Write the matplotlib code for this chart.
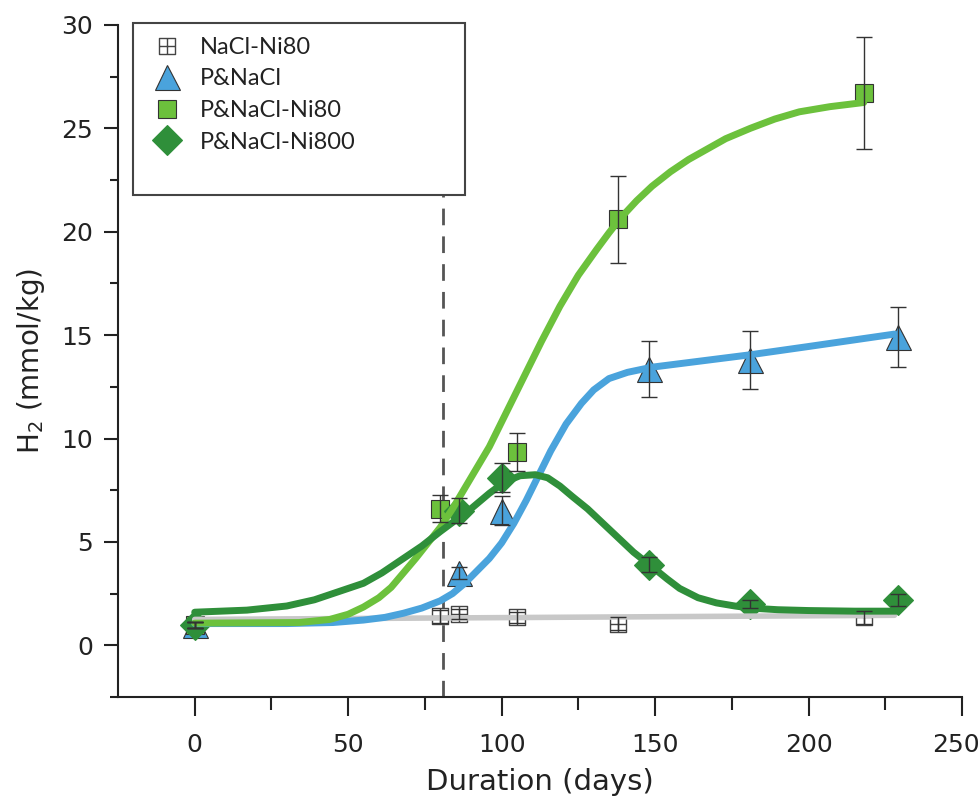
import matplotlib.pyplot as plt
from matplotlib.lines import Line2D
from matplotlib.patches import Rectangle
from matplotlib.path import Path
from matplotlib.transforms import ScaledTranslation

# measured points (days, mmol/kg) with error bars
nacl_x = [0, 80, 86, 105, 138, 218]
nacl_y = [1.0, 1.4, 1.5, 1.35, 1.05, 1.35]
nacl_err = [0.15, 0.3, 0.25, 0.25, 0.3, 0.3]

pnacl_x = [0, 86, 100, 148, 181, 229]
pnacl_y = [1.0, 3.5, 6.5, 13.35, 13.8, 14.9]
pnacl_err = [0.15, 0.3, 0.7, 1.35, 1.4, 1.45]

ni80_x = [0, 80, 105, 138, 218]
ni80_y = [1.0, 6.6, 9.35, 20.6, 26.7]
ni80_err = [0.15, 0.65, 0.9, 2.1, 2.7]

ni800_x = [0, 86, 100, 148, 181, 229]
ni800_y = [1.0, 6.5, 8.1, 3.9, 2.0, 2.2]
ni800_err = [0.15, 0.6, 0.7, 0.35, 0.2, 0.3]

# fitted curves
fit_nacl_x = [0, 228]
fit_nacl_y = [1.25, 1.45]

fit_pnacl_x = [0, 30, 45, 55, 62, 68, 74, 80, 84, 88, 92, 96, 100, 104, 108, 112, 116,
               121, 126, 130, 135, 141, 149, 165, 181, 200, 228]
fit_pnacl_y = [1.05, 1.05, 1.1, 1.22, 1.35, 1.55, 1.8, 2.15, 2.5, 3.0, 3.6, 4.2, 4.95,
               5.9, 7.0, 8.2, 9.4, 10.7, 11.7, 12.35, 12.9, 13.2, 13.45, 13.75, 14.05,
               14.45, 15.05]

fit_ni80_x = [0, 34, 44, 50, 55, 60, 64, 68, 72, 76, 80, 84, 88, 92, 96, 100, 106, 113,
              119, 125, 131, 135, 139, 144, 149, 155, 161, 167, 173, 181, 189, 197, 207,
              218]
fit_ni80_y = [1.07, 1.1, 1.25, 1.5, 1.85, 2.3, 2.8, 3.5, 4.2, 4.95, 5.7, 6.6, 7.6, 8.6,
              9.6, 10.8, 12.6, 14.7, 16.4, 17.9, 19.15, 19.95, 20.7, 21.5, 22.2, 22.9,
              23.5, 24.0, 24.5, 25.0, 25.45, 25.8, 26.05, 26.25]

fit_ni800_x = [0, 17, 30, 39, 47, 55, 61, 66, 70, 74, 80, 85, 90, 96, 101, 106, 111,
               115, 119, 123, 128, 133, 138, 143, 149, 154, 158, 164, 170, 176, 181,
               190, 200, 215, 229]
fit_ni800_y = [1.6, 1.7, 1.9, 2.2, 2.6, 3.0, 3.5, 4.0, 4.4, 4.8, 5.5, 6.05, 6.6, 7.35,
               7.9, 8.2, 8.25, 8.1, 7.7, 7.2, 6.6, 5.9, 5.2, 4.5, 3.8, 3.2, 2.75, 2.3,
               2.05, 1.9, 1.8, 1.72, 1.68, 1.65, 1.65]

start_day = 81

labels = ["NaCl-Ni80", "P&NaCl", "P&NaCl-Ni80", "P&NaCl-Ni800"]

blue = "#4aa3dc"
light_green = "#6cc13c"
dark_green = "#2f8f3a"
gray_line = "#c8c8c8"
edge = "#333333"

# square with a cross for NaCl-Ni80
box_cross = Path(
    [(-1, -1), (1, -1), (1, 1), (-1, 1), (-1, -1), (-1, 0), (1, 0), (0, -1), (0, 1)],
    [Path.MOVETO, Path.LINETO, Path.LINETO, Path.LINETO, Path.CLOSEPOLY,
     Path.MOVETO, Path.LINETO, Path.MOVETO, Path.LINETO],
)

styles = [
    dict(marker=box_cross, ms=11, mfc="white", mec="#444444", mew=1.0),
    dict(marker="^", ms=18, mfc=blue, mec=edge, mew=0.8),
    dict(marker="s", ms=13.5, mfc=light_green, mec=edge, mew=0.8),
    dict(marker="D", ms=15, mfc=dark_green, mec=dark_green, mew=0.8),
]

fig = plt.figure(figsize=(9.8, 7.98), dpi=100)
ax = fig.add_axes([0.1204, 0.1266, 0.8612, 0.8421])

ax.axvline(start_day, color="#555555", lw=2, dashes=(6, 4), zorder=1)

series = [
    (nacl_x, nacl_y, nacl_err, fit_nacl_x, fit_nacl_y, gray_line, 4),
    (pnacl_x, pnacl_y, pnacl_err, fit_pnacl_x, fit_pnacl_y, blue, 5),
    (ni80_x, ni80_y, ni80_err, fit_ni80_x, fit_ni80_y, light_green, 5),
    (ni800_x, ni800_y, ni800_err, fit_ni800_x, fit_ni800_y, dark_green, 5),
]

for (x, y, err, fx, fy, col, lw), st in zip(series, styles):
    ax.plot(x, y, ls="none", zorder=2, **st)
    ax.plot(fx, fy, color=col, lw=lw, solid_capstyle="round", solid_joinstyle="round", zorder=3)
    ax.errorbar(x, y, yerr=err, fmt="none", ecolor="#333333", elinewidth=1,
                capsize=6, capthick=1, zorder=4)

ax.set_xlim(-25, 250)
ax.set_ylim(-2.5, 30)
ax.set_xticks([0, 50, 100, 150, 200, 250])
ax.set_xticks([25, 75, 125, 175, 225], minor=True)
ax.set_yticks([0, 5, 10, 15, 20, 25, 30])
ax.set_yticks([-2.5, 2.5, 7.5, 12.5, 17.5, 22.5, 27.5], minor=True)
ax.spines["top"].set_visible(False)
ax.spines["right"].set_visible(False)
for s in ["left", "bottom"]:
    ax.spines[s].set_linewidth(1.5)
    ax.spines[s].set_color("#222222")
ax.tick_params(which="major", direction="out", length=10, width=1.5, colors="#222222",
               labelsize=18, pad=8)
ax.tick_params(which="minor", direction="out", length=6, width=1.5, colors="#222222")
ax.tick_params(axis="x", which="major", length=14, pad=12)
ax.tick_params(axis="x", which="minor", length=9)

# keep the last x label inside the canvas
last = ax.get_xticklabels()[-1]
last.set_transform(last.get_transform() + ScaledTranslation(-6 / 100, 0, fig.dpi_scale_trans))

ax.set_xlabel("Duration (days)", fontsize=21, color="#222222", labelpad=8)
ax.set_ylabel("H$_2$ (mmol/kg)", fontsize=20, color="#222222", labelpad=10)

# legend frame is taller than its entries in the original
frame = Rectangle((0.018, 0.747), 0.393, 0.256, transform=ax.transAxes, facecolor="white",
                  edgecolor="#444444", lw=1.5, zorder=5, clip_on=False)
ax.add_patch(frame)
handles = [Line2D([], [], ls="none", **st) for st in styles]
leg = ax.legend(handles, labels, loc="upper left", bbox_to_anchor=(0.016, 1.014),
                frameon=False, handlelength=1.2, handletextpad=0.8,
                labelspacing=0.45, prop={"family": "Lato", "size": 17})
leg.set_zorder(6)
for t in leg.get_texts():
    t.set_color("#222222")

fig.savefig("out.png", dpi=100)
